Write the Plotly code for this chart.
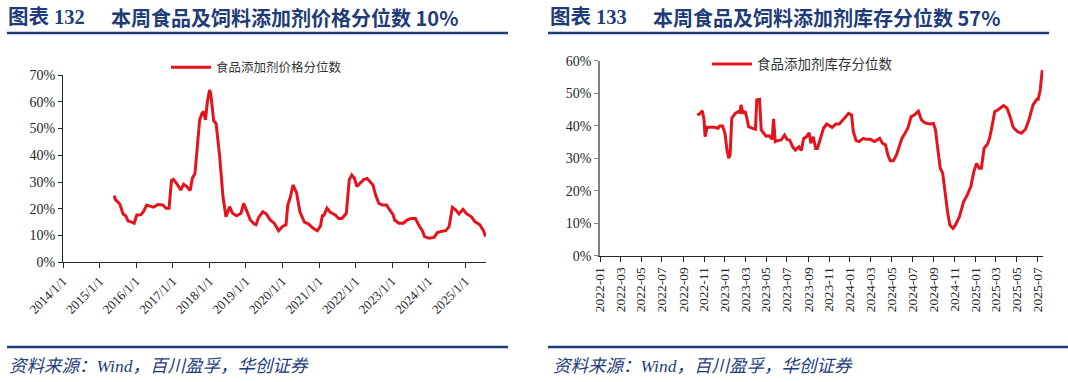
import plotly.graph_objects as go

# ---------------- data ----------------
price_dates = [
    "2015-05-29", "2015-06-05", "2015-07-22", "2015-08-25", "2015-09-20", "2015-10-12",
    "2015-11-24", "2015-12-13", "2016-01-08", "2016-02-18", "2016-03-14", "2016-04-16",
    "2016-05-19", "2016-06-25", "2016-08-04", "2016-09-24", "2016-10-27", "2016-11-25",
    "2016-12-20", "2017-01-08", "2017-02-17", "2017-03-22", "2017-04-20", "2017-05-22",
    "2017-06-24", "2017-07-16", "2017-08-11", "2017-09-06", "2017-09-27", "2017-10-20",
    "2017-11-06", "2017-11-24", "2017-12-13", "2018-01-04", "2018-01-15", "2018-02-14",
    "2018-03-10", "2018-04-15", "2018-05-18", "2018-06-17", "2018-07-23", "2018-08-22",
    "2018-10-01", "2018-11-14", "2018-12-10", "2019-01-20", "2019-02-14", "2019-03-26",
    "2019-04-13", "2019-05-08", "2019-06-20", "2019-07-24", "2019-09-02", "2019-10-12",
    "2019-11-24", "2020-01-05", "2020-02-06", "2020-02-24", "2020-03-22", "2020-04-16",
    "2020-05-22", "2020-06-24", "2020-08-08", "2020-09-20", "2020-11-04", "2020-12-15",
    "2021-01-16", "2021-02-03", "2021-02-20", "2021-03-22", "2021-04-23", "2021-06-13",
    "2021-07-16", "2021-08-18", "2021-10-01", "2021-10-30", "2021-11-24", "2021-12-20",
    "2022-01-15", "2022-02-18", "2022-03-24", "2022-04-27", "2022-05-30", "2022-06-24",
    "2022-07-20", "2022-08-22", "2022-09-24", "2022-11-06", "2022-12-08", "2023-01-12",
    "2023-01-26", "2023-03-10", "2023-04-23", "2023-05-30", "2023-07-09", "2023-08-22",
    "2023-09-27", "2023-10-30", "2023-11-21", "2024-01-04", "2024-02-24", "2024-03-28",
    "2024-04-30", "2024-06-20", "2024-07-23", "2024-08-07", "2024-08-25", "2024-09-27",
    "2024-10-30", "2024-12-09", "2025-01-15", "2025-03-04", "2025-04-06", "2025-05-27",
    "2025-07-01", "2025-07-25",
]
price_pct = [
    24.9, 23.6, 21.8, 18.0, 17.4, 15.5,
    14.9, 14.6, 17.7, 17.8, 18.9, 21.4,
    21.0, 20.6, 21.6, 21.4, 20.2, 20.2,
    30.7, 31.0, 29.0, 27.0, 29.2, 28.3,
    26.8, 31.4, 33.2, 43.2, 53.2, 55.7,
    56.3, 53.2, 60.0, 64.4, 63.2, 52.9,
    51.9, 39.5, 24.5, 17.0, 20.8, 18.3,
    17.4, 18.3, 22.0, 18.3, 15.8, 14.3,
    14.0, 16.7, 18.9, 18.1, 15.8, 14.6,
    11.8, 13.5, 14.0, 21.4, 24.5, 28.9,
    26.0, 18.9, 15.0, 14.3, 12.7, 11.8,
    13.6, 17.4, 17.6, 20.2, 18.7, 17.7,
    16.4, 16.4, 18.3, 30.8, 32.6, 31.4,
    28.3, 29.7, 30.9, 31.3, 30.0, 28.9,
    25.2, 22.0, 21.4, 21.4, 19.6, 17.7,
    15.8, 14.6, 14.6, 15.8, 16.4, 16.4,
    13.7, 11.8, 9.6, 9.0, 9.3, 11.1,
    11.5, 11.8, 13.3, 17.0, 20.5, 19.6,
    18.1, 19.8, 18.1, 17.0, 15.2, 14.0,
    11.8, 9.6,
]

stock_dates = [
    "2022-10-12", "2022-10-19", "2022-10-27", "2022-11-01", "2022-11-04", "2022-11-10",
    "2022-11-16", "2022-12-02", "2022-12-12", "2022-12-16", "2022-12-25", "2023-01-01",
    "2023-01-07", "2023-01-12", "2023-01-16", "2023-01-21", "2023-01-31", "2023-02-09",
    "2023-02-14", "2023-02-17", "2023-02-23", "2023-03-01", "2023-03-05", "2023-03-11",
    "2023-03-23", "2023-03-31", "2023-04-04", "2023-04-12", "2023-04-17", "2023-04-23",
    "2023-05-01", "2023-05-10", "2023-05-19", "2023-05-23", "2023-05-28", "2023-06-04",
    "2023-06-14", "2023-06-24", "2023-07-01", "2023-07-09", "2023-07-18", "2023-07-26",
    "2023-08-05", "2023-08-12", "2023-08-19", "2023-08-27", "2023-09-04", "2023-09-09",
    "2023-09-16", "2023-09-23", "2023-09-28", "2023-10-07", "2023-10-16", "2023-10-25",
    "2023-11-04", "2023-11-10", "2023-11-21", "2023-12-01", "2023-12-12", "2023-12-20",
    "2023-12-28", "2024-01-06", "2024-01-11", "2024-01-19", "2024-01-28", "2024-02-09",
    "2024-02-18", "2024-03-01", "2024-03-13", "2024-03-28", "2024-04-05", "2024-04-14",
    "2024-04-21", "2024-04-28", "2024-05-07", "2024-05-16", "2024-05-24", "2024-06-01",
    "2024-06-10", "2024-06-19", "2024-06-28", "2024-07-07", "2024-07-19", "2024-07-28",
    "2024-08-07", "2024-08-22", "2024-09-01", "2024-09-07", "2024-09-13", "2024-09-21",
    "2024-09-28", "2024-10-05", "2024-10-13", "2024-10-19", "2024-10-28", "2024-11-04",
    "2024-11-16", "2024-11-28", "2024-12-09", "2024-12-19", "2024-12-28", "2025-01-05",
    "2025-01-13", "2025-01-19", "2025-01-27", "2025-02-06", "2025-02-12", "2025-02-19",
    "2025-02-27", "2025-03-10", "2025-03-19", "2025-03-25", "2025-04-04", "2025-04-13",
    "2025-04-22", "2025-05-04", "2025-05-16", "2025-05-28", "2025-06-07", "2025-06-19",
    "2025-06-30", "2025-07-04", "2025-07-10", "2025-07-16",
]
stock_pct = [
    43.3, 43.6, 44.6, 41.8, 36.6, 39.5,
    39.5, 39.5, 39.2, 39.9, 39.9, 37.7,
    32.5, 30.0, 31.0, 42.3, 43.8, 44.3,
    44.1, 46.4, 43.7, 44.5, 42.8, 39.7,
    39.2, 38.9, 47.9, 48.1, 38.7, 37.7,
    36.8, 36.9, 35.8, 42.1, 35.1, 35.4,
    35.6, 37.1, 35.8, 35.6, 33.5, 32.5,
    33.5, 32.4, 36.1, 36.6, 37.8, 34.6,
    36.6, 33.0, 33.0, 36.1, 39.2, 40.5,
    39.9, 39.5, 40.5, 40.5, 41.8, 42.8,
    43.8, 43.3, 38.2, 35.4, 35.1, 36.1,
    35.8, 35.8, 35.1, 36.1, 34.6, 34.1,
    31.0, 29.2, 29.2, 31.0, 33.5, 36.1,
    37.7, 39.5, 42.8, 43.3, 44.5, 41.8,
    40.9, 40.5, 40.7, 38.7, 33.5, 26.9,
    25.4, 19.2, 13.0, 9.4, 8.4, 9.4,
    12.0, 16.6, 18.7, 21.2, 25.8, 28.4,
    26.9, 26.9, 33.0, 34.4, 36.1, 39.7,
    44.3, 45.0, 45.8, 46.2, 45.4, 42.8,
    39.5, 38.2, 37.7, 38.9, 41.8, 46.4,
    48.1, 48.1, 51.0, 57.1,
]

left_tick_vals = [f"{y}-01-01" for y in range(2014, 2026)]
left_tick_text = [f"{y}/1/1" for y in range(2014, 2026)]
right_tick_vals = [f"{y}-{m:02d}-01" for y in range(2022, 2026) for m in (1, 3, 5, 7, 9, 11)
                   if not (y == 2025 and m > 7)]

price_name = "食品添加剂价格分位数"
stock_name = "食品添加剂库存分位数"
title_left_no = "图表 132"
title_left = "本周食品及饲料添加剂价格分位数 10%"
title_right_no = "图表 133"
title_right = "本周食品及饲料添加剂库存分位数 57%"
source_text = "资料来源：Wind，百川盈孚，华创证券"

# ---------------- figure ----------------
W, H = 1068, 382
RED = "#E3141C"
NAVY = "#1F3C78"
SERIF = "Liberation Serif, Times New Roman, Noto Sans CJK SC, serif"
CJK = "Noto Sans CJK SC, sans-serif"

def px(x):
    return x / W

def py(y):
    return 1 - y / H

fig = go.Figure()
fig.add_trace(go.Scatter(x=price_dates, y=price_pct, mode="lines", name=price_name,
                         line=dict(color=RED, width=3), xaxis="x", yaxis="y", legend="legend"))
fig.add_trace(go.Scatter(x=stock_dates, y=stock_pct, mode="lines", name=stock_name,
                         line=dict(color=RED, width=3), xaxis="x2", yaxis="y2", legend="legend2"))

axis_common = dict(showgrid=False, zeroline=False, ticks="outside", showline=True,
                   mirror=False, automargin=False)

fig.update_layout(
    template="none",
    width=W, height=H, autosize=False,
    margin=dict(l=0, r=0, t=0, b=0, autoexpand=False),
    paper_bgcolor="white", plot_bgcolor="white",
    xaxis=dict(**axis_common, type="date", domain=[px(63), px(486)],
               range=["2014-01-01", "2025-07-27"], tickmode="array",
               tickvals=left_tick_vals, ticktext=left_tick_text, tickangle=-45,
               linecolor="#262626", linewidth=1.2, tickcolor="#262626", ticklen=5,
               tickfont=dict(family=SERIF, size=13, color="#262626"), anchor="y"),
    yaxis=dict(**axis_common, domain=[py(262.3), py(75)], range=[0, 70], dtick=10,
               ticksuffix="%", linecolor="#262626", linewidth=1.2, tickcolor="#262626",
               ticklen=4, tickfont=dict(family=SERIF, size=14, color="#262626"),
               anchor="x"),
    xaxis2=dict(**axis_common, type="date", domain=[px(600), px(1043.3)],
                range=["2022-01-01", "2025-07-19"], tickmode="array",
                tickvals=right_tick_vals, tickformat="%Y-%m", tickangle=-90,
                linecolor="#262626", linewidth=1.2, tickcolor="#262626", ticklen=5,
                tickfont=dict(family=SERIF, size=13.5, color="#262626"), anchor="y2"),
    yaxis2=dict(**axis_common, domain=[py(255.7), py(60.7)], range=[0, 60], dtick=10,
                ticksuffix="%", linecolor="#808080", linewidth=1.5, tickcolor="#808080",
                ticklen=4, tickfont=dict(family=SERIF, size=14, color="#262626"),
                anchor="x2"),
    legend=dict(x=px(166), y=py(67.7), xanchor="left", yanchor="middle",
                bgcolor="rgba(0,0,0,0)", itemwidth=40,
                font=dict(family=CJK, size=12.5, color="#333333")),
    legend2=dict(x=px(707), y=py(64.3), xanchor="left", yanchor="middle",
                 bgcolor="rgba(0,0,0,0)", itemwidth=40,
                 font=dict(family=CJK, size=13.5, color="#333333")),
    showlegend=True,
)

title_font_no = dict(family="Liberation Serif, Noto Sans CJK SC", size=20.5, color=NAVY)
title_font = dict(family=CJK, size=20, color=NAVY)
annos = [
    dict(text=f"<b>{title_left_no}</b>", x=px(6), y=py(17), xanchor="left", yanchor="middle",
         font=title_font_no),
    dict(text=f"<b>{title_left}</b>", x=px(109), y=py(17), xanchor="left", yanchor="middle",
         font=title_font),
    dict(text=f"<b>{title_right_no}</b>", x=px(548), y=py(17), xanchor="left", yanchor="middle",
         font=title_font_no),
    dict(text=f"<b>{title_right}</b>", x=px(651), y=py(17), xanchor="left", yanchor="middle",
         font=title_font),
    dict(text=f"<i>{source_text}</i>", x=px(7), y=py(366), xanchor="left", yanchor="middle",
         font=dict(family=SERIF, size=17.5, color=NAVY)),
    dict(text=f"<i>{source_text}</i>", x=px(551), y=py(366), xanchor="left", yanchor="middle",
         font=dict(family=SERIF, size=17.5, color=NAVY)),
]
for a in annos:
    a.update(xref="paper", yref="paper", showarrow=False)
fig.update_layout(annotations=annos)

lines = [(7, 508, 33), (548, 1049, 33), (7, 508, 347), (548, 1068, 347)]
fig.update_layout(shapes=[
    dict(type="line", xref="paper", yref="paper", x0=px(a), x1=px(b), y0=py(y), y1=py(y),
         line=dict(color=NAVY, width=2.5)) for a, b, y in lines
])

fig.write_html("out.html", config={"displayModeBar": False},
               post_script="document.body.style.margin='0';document.body.style.overflow='hidden';")
